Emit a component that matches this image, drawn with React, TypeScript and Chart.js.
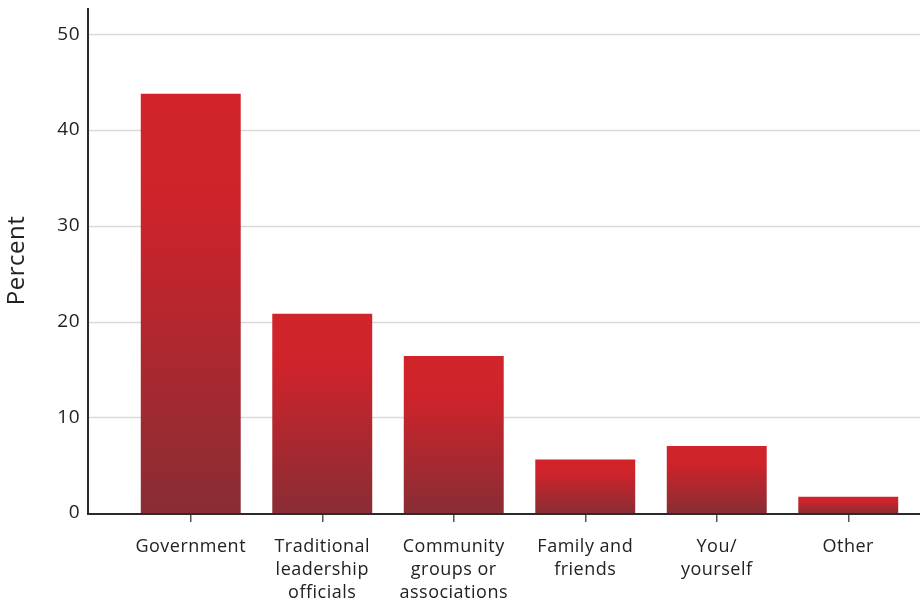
import React, { useEffect, useRef } from "react";
import { Chart, registerables } from "chart.js";

Chart.register(...registerables);

const categories: string[][] = [
  ["Government"],
  ["Traditional", "leadership", "officials"],
  ["Community", "groups or", "associations"],
  ["Family and", "friends"],
  ["You/", "yourself"],
  ["Other"],
];
const values: number[] = [43.8, 20.8, 16.4, 5.6, 7.0, 1.7];
const yTickValues: number[] = [0, 10, 20, 30, 40, 50];
const yAxisTitle = "Percent";

const FONT = "'Open Sans', Lato, sans-serif";
const AXIS_X = 88;

const framePlugin = {
  id: "frame",
  beforeDraw(chart: any) {
    try {
      chart.ctx.letterSpacing = "0.5px";
    } catch (e) {}
  },
  beforeDatasetsDraw(chart: any) {
    const { ctx, scales } = chart;
    const y = scales.y;
    ctx.save();
    ctx.strokeStyle = "#d9d9d9";
    ctx.lineWidth = 1.5;
    yTickValues.forEach((v) => {
      if (v === 0) return;
      const py = Math.round(y.getPixelForValue(v)) + 0.5;
      ctx.beginPath();
      ctx.moveTo(AXIS_X, py);
      ctx.lineTo(chart.width, py);
      ctx.stroke();
    });
    ctx.restore();
  },
  afterDatasetsDraw(chart: any) {
    const { ctx, chartArea, scales } = chart;
    const y0 = scales.y.getPixelForValue(0);
    ctx.save();
    ctx.strokeStyle = "#2b2b2b";
    ctx.lineWidth = 2;
    ctx.beginPath();
    ctx.moveTo(AXIS_X, chartArea.top);
    ctx.lineTo(AXIS_X, y0 + 1);
    ctx.lineTo(chart.width, y0 + 1);
    ctx.stroke();
    ctx.restore();
  },
};

export default function App() {
  const ref = useRef<HTMLCanvasElement | null>(null);

  useEffect(() => {
    if (!ref.current) return;
    const chart = new Chart(ref.current, {
      type: "bar",
      data: {
        labels: categories as any,
        datasets: [
          {
            data: values,
            backgroundColor: (c: any) => {
              const ch = c.chart;
              const sy = ch.scales && ch.scales.y;
              if (!sy || c.dataIndex === undefined) return "#d2232a";
              const top = sy.getPixelForValue(values[c.dataIndex]);
              const bottom = sy.getPixelForValue(0);
              if (!isFinite(top) || !isFinite(bottom) || bottom - top < 1) return "#d2232a";
              const g = ch.ctx.createLinearGradient(0, top, 0, bottom);
              g.addColorStop(0, "#d2232a");
              g.addColorStop(0.25, "#cf232b");
              g.addColorStop(1, "#892d34");
              return g;
            },
            borderWidth: 0,
            barPercentage: 0.76,
            categoryPercentage: 1,
          },
        ],
      },
      options: {
        animation: false,
        responsive: false,
        maintainAspectRatio: false,
        layout: { padding: { left: 0, right: 6, top: 8, bottom: 0 } },
        plugins: {
          legend: { display: false },
          tooltip: { enabled: false },
        },
        scales: {
          x: {
            type: "category",
            grid: {
              display: true,
              drawOnChartArea: false,
              drawTicks: true,
              tickLength: 9,
              offset: false,
              color: "#555555",
              lineWidth: 1.5,
            },
            border: { display: false },
            ticks: {
              color: "#222222",
              padding: 13,
              maxRotation: 0,
              autoSkip: false,
              font: { family: FONT, size: 18, lineHeight: 1.28 },
            },
            afterFit: (s: any) => {
              s.height = 90;
            },
          },
          y: {
            type: "linear",
            min: 0,
            max: 52.75,
            grid: { display: false, drawTicks: false },
            border: { display: false },
            afterBuildTicks: (s: any) => {
              s.ticks = yTickValues.map((v) => ({ value: v }));
            },
            ticks: {
              color: "#222222",
              padding: 45,
              font: { family: FONT, size: 19 },
            },
            title: {
              display: true,
              text: yAxisTitle,
              color: "#222222",
              font: { family: FONT, size: 24 },
              padding: { top: 3, bottom: 0 },
            },
            afterFit: (s: any) => {
              s.width = 125;
              s.paddingTop = 0;
              s.paddingBottom = 0;
            },
          },
        },
      },
      plugins: [framePlugin],
    });
    return () => chart.destroy();
  }, []);

  return (
    <div style={{ position: "fixed", left: 0, top: 0, width: 920, height: 603, background: "#fff" }}>
      <canvas ref={ref} width={920} height={603} style={{ width: 920, height: 603 }} />
    </div>
  );
}
